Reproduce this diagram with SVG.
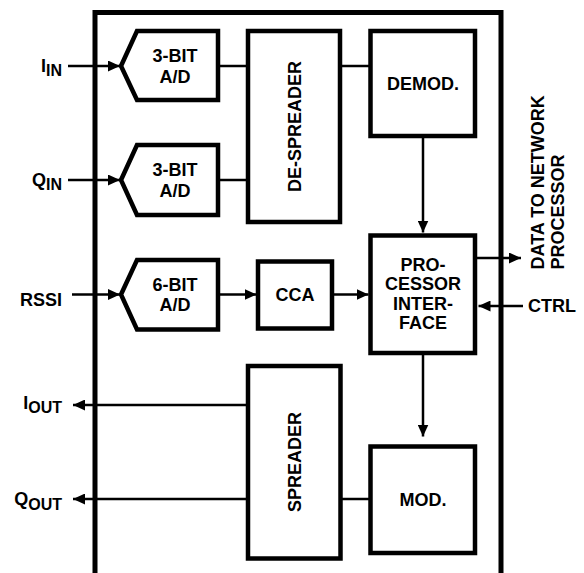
<svg xmlns="http://www.w3.org/2000/svg" width="584" height="573" viewBox="0 0 584 573">
<style>
.blk{fill:#fff;stroke:#000;stroke-width:4.5;stroke-linejoin:miter}
.frame{fill:none;stroke:#000;stroke-width:5}
.ln{fill:none;stroke:#000;stroke-width:2.5}
text{font-family:"Liberation Sans",Arial,Helvetica,sans-serif;font-weight:bold;font-size:18px;fill:#000}
.c{text-anchor:middle}
.sub{font-size:16px}
</style>
<defs>
<marker id="ah" markerUnits="userSpaceOnUse" markerWidth="12" markerHeight="11" refX="12" refY="5.5" orient="auto">
<path d="M0,0 L12,5.5 L0,11 z" fill="#000"/>
</marker>
</defs>
<rect width="584" height="573" fill="#fff"/>
<path class="frame" d="M95,573 V12.5 H501 V573"/>
<g id="connectors">
<line class="ln" x1="68" y1="66" x2="120" y2="66" marker-end="url(#ah)"/>
<line class="ln" x1="68" y1="180" x2="120" y2="180" marker-end="url(#ah)"/>
<line class="ln" x1="72" y1="294.5" x2="120" y2="294.5" marker-end="url(#ah)"/>
<line class="ln" x1="218" y1="66" x2="248" y2="66"/>
<line class="ln" x1="218" y1="180" x2="248" y2="180"/>
<line class="ln" x1="340" y1="66" x2="370.5" y2="66"/>
<line class="ln" x1="218" y1="294.5" x2="256.5" y2="294.5" marker-end="url(#ah)"/>
<line class="ln" x1="332" y1="294.5" x2="368.5" y2="294.5" marker-end="url(#ah)"/>
<line class="ln" x1="423" y1="136" x2="423" y2="232.5" marker-end="url(#ah)"/>
<line class="ln" x1="475" y1="258" x2="521" y2="258" marker-end="url(#ah)"/>
<line class="ln" x1="523" y1="306" x2="478.5" y2="306" marker-end="url(#ah)"/>
<line class="ln" x1="423" y1="353" x2="423" y2="436.5" marker-end="url(#ah)"/>
<line class="ln" x1="248" y1="405" x2="73" y2="405" marker-end="url(#ah)"/>
<line class="ln" x1="248" y1="499" x2="73" y2="499" marker-end="url(#ah)"/>
<line class="ln" x1="340.5" y1="499" x2="370.5" y2="499"/>
</g>
<g id="ad1">
<path class="blk" d="M121,66 L137,31 H218 V100 H137 Z"/>
<text class="c" x="175" y="62">3-BIT</text>
<text class="c" x="175" y="82.5">A/D</text>
</g>
<g id="ad2">
<path class="blk" d="M121,180 L137,145 H218 V215 H137 Z"/>
<text class="c" x="175" y="176">3-BIT</text>
<text class="c" x="175" y="196.5">A/D</text>
</g>
<g id="ad3">
<path class="blk" d="M121,294.5 L137,260 H218 V329.5 H137 Z"/>
<text class="c" x="175" y="290.5">6-BIT</text>
<text class="c" x="175" y="311">A/D</text>
</g>
<g id="despreader">
<rect class="blk" x="248" y="31" width="92" height="191"/>
<text class="c" transform="translate(300.5,126.5) rotate(-90)">DE-SPREADER</text>
</g>
<g id="demod">
<rect class="blk" x="370.5" y="31" width="104.5" height="105"/>
<text class="c" x="423" y="90">DEMOD.</text>
</g>
<g id="cca">
<rect class="blk" x="258" y="261.5" width="74" height="67"/>
<text class="c" x="295" y="301">CCA</text>
</g>
<g id="processor">
<rect class="blk" x="370.5" y="235.5" width="104.5" height="117.5"/>
<text class="c" x="423" y="270.5">PRO-</text>
<text class="c" x="423" y="290">CESSOR</text>
<text class="c" x="423" y="309.5">INTER-</text>
<text class="c" x="423" y="329">FACE</text>
</g>
<g id="spreader">
<rect class="blk" x="248" y="366" width="92.5" height="192.5"/>
<text class="c" transform="translate(300.5,462) rotate(-90)">SPREADER</text>
</g>
<g id="mod">
<rect class="blk" x="370.5" y="446.5" width="104.5" height="106.5"/>
<text class="c" x="423" y="506">MOD.</text>
</g>
<g id="labels">
<text x="62" y="72" text-anchor="end">I<tspan class="sub" dy="4">IN</tspan></text>
<text x="62" y="186" text-anchor="end">Q<tspan class="sub" dy="4">IN</tspan></text>
<text x="62" y="305.5" text-anchor="end">RSSI</text>
<text x="62" y="409" text-anchor="end">I<tspan class="sub" dy="4">OUT</tspan></text>
<text x="62" y="505" text-anchor="end">Q<tspan class="sub" dy="4.5">OUT</tspan></text>
<text x="528" y="312">CTRL</text>
<text transform="translate(543.5,269.5) rotate(-90)">DATA TO NETWORK</text>
<text transform="translate(564,269.5) rotate(-90)">PROCESSOR</text>
</g>
</svg>
